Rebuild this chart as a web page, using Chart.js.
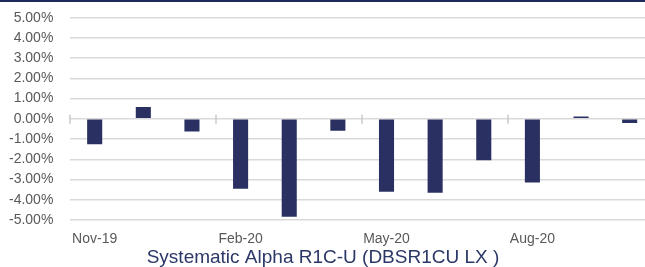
<!DOCTYPE html>
<html>
<head>
<meta charset="utf-8">
<script src="https://cdn.jsdelivr.net/npm/chart.js@4/dist/chart.umd.min.js"></script>
<style>
html,body{margin:0;padding:0;background:#fff;overflow:hidden;width:645px;height:267px;}
#topline{position:absolute;left:0;top:0;width:645px;height:2px;background:#1f2a5c;}
#wrap{position:absolute;left:-9px;top:0;width:663px;height:267px;}
</style>
</head>
<body>
<div id="wrap"><canvas id="c" width="663" height="267"></canvas></div>
<div id="topline"></div>
<script>
const categories = ['Nov-19','Dec-19','Jan-20','Feb-20','Mar-20','Apr-20','May-20','Jun-20','Jul-20','Aug-20','Sep-20','Oct-20'];
const returnsPct = [-1.25, 0.58, -0.62, -3.45, -4.84, -0.59, -3.60, -3.65, -2.05, -3.15, 0.11, -0.20];
const yTicks = [5,4,3,2,1,0,-1,-2,-3,-4,-5];
const titleText = 'Systematic Alpha R1C-U (DBSR1CU LX )';

const gray = '#595959';
const fam = 'Liberation Sans, Arial, sans-serif';

// tick marks crossing the zero (category) axis, every 3 categories
const zeroAxisTicks = {
  id: 'zeroAxisTicks',
  beforeDatasetsDraw(chart) {
    const x = chart.scales.x, y = chart.scales.y, ctx = chart.ctx;
    const y0 = y.getPixelForValue(0);
    ctx.save();
    ctx.strokeStyle = '#c8c8c8';
    ctx.lineWidth = 1.5;
    for (let i = 0; i <= categories.length; i += 3) {
      const px = Math.round(x.getPixelForValue(i - 0.5));
      ctx.beginPath();
      ctx.moveTo(px, y0 - 4);
      ctx.lineTo(px, y0 + 5);
      ctx.stroke();
    }
    ctx.restore();
  }
};

new Chart(document.getElementById('c'), {
  type: 'bar',
  data: {
    labels: categories,
    datasets: [{
      data: returnsPct,
      backgroundColor: '#2a3162',
      borderWidth: 0,
      barPercentage: 0.31,
      categoryPercentage: 1.0
    }]
  },
  plugins: [zeroAxisTicks],
  options: {
    responsive: false,
    animation: false,
    layout: { padding: { left: 1, right: 0, top: 0, bottom: 0 } },
    plugins: {
      legend: { display: false },
      tooltip: { enabled: false },
      title: {
        display: true,
        position: 'bottom',
        text: titleText,
        color: '#2b3766',
        font: { family: fam, size: 19, weight: 'normal', lineHeight: 1 },
        padding: { top: -10, bottom: 0 }
      }
    },
    scales: {
      x: {
        type: 'category',
        position: 'bottom',
        grid: { display: false, drawTicks: false },
        border: { display: false },
        ticks: {
          autoSkip: false,
          maxRotation: 0,
          padding: 12,
          color: gray,
          font: { family: fam, size: 14, lineHeight: 1 },
          callback: function(v, i) { return i % 3 === 0 ? categories[i] : ''; }
        }
      },
      y: {
        min: -5,
        max: 5,
        afterBuildTicks: function(scale) { scale.ticks = yTicks.map(v => ({ value: v })); },
        grid: { color: '#d9d9d9', lineWidth: 1.5, drawTicks: false },
        border: { display: false },
        ticks: {
          autoSkip: false,
          padding: 17,
          color: gray,
          font: { family: fam, size: 14, lineHeight: 0.1 },
          callback: function(v) { return v.toFixed(2) + '%'; }
        }
      }
    }
  }
});
</script>
</body>
</html>
